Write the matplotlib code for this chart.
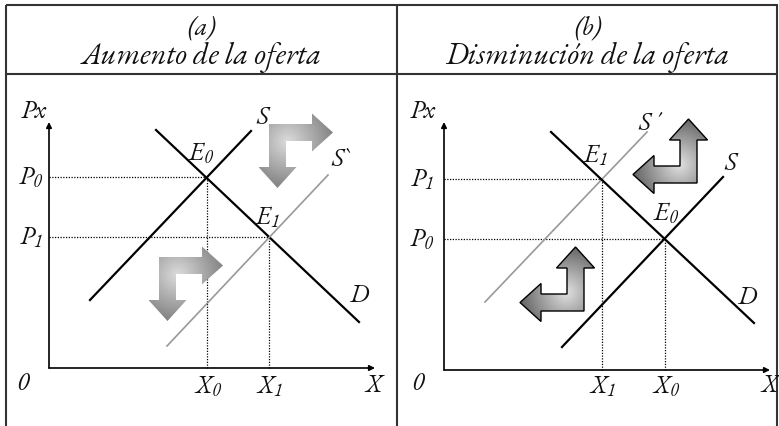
import numpy as np
import matplotlib
matplotlib.use("Agg")
import matplotlib.pyplot as plt
from matplotlib.patches import Polygon
from matplotlib import font_manager as fm

# pick an italic serif close to Garamond
FAM = 'Liberation Serif'
for cand in ['EB Garamond', 'Cormorant Garamond', 'Liberation Serif']:
    try:
        p = fm.findfont(fm.FontProperties(family=cand, style='italic'), fallback_to_default=False)
        if 'talic' in p:
            FAM = cand
            break
    except Exception:
        pass

plt.rcParams['font.family'] = [FAM, 'DejaVu Serif']
plt.rcParams['mathtext.fontset'] = 'custom'
plt.rcParams['mathtext.it'] = FAM + ':italic'
plt.rcParams['mathtext.rm'] = FAM + ':italic'

# ---------------- data ----------------
titles_letter = ["(a)", "(b)"]
titles_text = ["Aumento de la oferta", "Disminución de la oferta"]

# Panel (a): supply increase
a_S_x = [41, 202];   a_S_y = [68, 237]
a_D_x = [107, 310];  a_D_y = [238, 46]
a_S2_x = [118, 279]; a_S2_y = [22, 193]
a_eq_x = [158, 220]; a_eq_y = [191, 131]          # E0, E1
a_eq_names = ["$E_0$", "$E_1$"]
a_price_names = ["$P_0$", "$P_1$"]
a_qty_names = ["$X_0$", "$X_1$"]

# Panel (b): supply decrease
b_S2_x = [41, 203];  b_S2_y = [68, 238]
b_D_x = [107, 310];  b_D_y = [238, 47]
b_S_x = [118, 279];  b_S_y = [23, 193]
b_eq_x = [221, 158]; b_eq_y = [131, 191]          # E0, E1
b_eq_names = ["$E_0$", "$E_1$"]
b_price_names = ["$P_0$", "$P_1$"]
b_qty_names = ["$X_0$", "$X_1$"]

axis_top = [246, 248]
axis_right = [326, 326]

# ---------------- figure ----------------
W, H = 779, 426
fig = plt.figure(figsize=(W / 100, H / 100), dpi=100)
bg = fig.add_axes([0, 0, 1, 1])
bg.set_xlim(0, W); bg.set_ylim(H, 0); bg.axis('off')

bc = '#333333'
blw = 1.5
for (x0, x1, y0, y1) in [(6, 778, 4.5, 4.5), (6, 778, 74, 74),
                         (6, 6, 4.5, 426), (397, 397, 4.5, 426),
                         (777.5, 777.5, 4.5, 426)]:
    bg.plot([x0, x1], [y0, y1], color=bc, lw=blw, solid_capstyle='butt')

TW = 'medium'
# title font size chosen so that panel (a) title is ~240 px wide
renderer = fig.canvas.get_renderer()
probe = bg.text(0, 0, titles_text[0], fontsize=20, style='italic', weight=TW)
wpx = probe.get_window_extent(renderer).width
probe.remove()
title_fs = 20 * 240.0 / wpx

for cx, lt, tt in [(201.5, titles_letter[0], titles_text[0]),
                   (587.5, titles_letter[1], titles_text[1])]:
    bg.text(cx, 35, lt, ha='center', va='baseline', fontsize=title_fs * 0.85,
            style='italic', weight=TW, color='#111')
    bg.text(cx, 64, tt, ha='center', va='baseline', fontsize=title_fs,
            style='italic', weight=TW, color='#111')


def make_panel(px0, px1, ox, oy):
    top, bot = 75, 426
    ax = fig.add_axes([px0 / W, 0, (px1 - px0) / W, (bot - top) / H])
    ax.set_xlim(px0 - ox, px1 - ox)
    ax.set_ylim(oy - bot, oy - top)
    ax.axis('off')
    return ax


def bent_arrow(ax, cx, cy, sx, sy, dark, light, outline):
    L, t, hw, hl = 64, 17, 38, 21
    e = (hw - t) / 2
    loc = [(0, 0), (L - hl, 0), (L - hl, -e), (L, t / 2), (L - hl, t + e),
           (L - hl, t), (t, t), (t, L - hl), (t + e, L - hl), (t / 2, L),
           (-e, L - hl), (0, L - hl)]
    pts = [(cx + sx * a, cy + sy * b) for a, b in loc]
    poly = Polygon(pts, closed=True, facecolor='none',
                   edgecolor='black' if outline else 'none', lw=1.0, zorder=4)
    ax.add_patch(poly)
    xs = [p[0] for p in pts]; ys = [p[1] for p in pts]
    x0, x1, y0, y1 = min(xs), max(xs), min(ys), max(ys)
    gx, gy = np.meshgrid(np.linspace(x0, x1, 120), np.linspace(y0, y1, 120))
    ccx, ccy = cx + sx * 0.28 * L, cy + sy * 0.28 * L
    r = np.hypot(gx - ccx, gy - ccy) / (0.75 * L)
    val = light + (dark - light) * np.clip(r, 0, 1)
    im = ax.imshow(val, extent=(x0, x1, y0, y1), origin='lower', cmap='gray',
                   vmin=0, vmax=1, zorder=3, interpolation='bilinear', aspect='auto')
    im.set_clip_path(poly)
    ax.set_xlim(ax.get_xlim()); ax.set_ylim(ax.get_ylim())


fs = 18.5
tk = dict(fontsize=fs, style='italic', weight=TW, color='#111', ha='center', va='center')
tk_m = dict(fontsize=fs, color='#111', ha='center', va='center')


def axes_lines(ax, top, right):
    ax.annotate('', xy=(0, top), xytext=(0, 0),
                arrowprops=dict(arrowstyle='-|>', lw=1.2, color='black',
                                mutation_scale=8, shrinkA=0, shrinkB=0))
    ax.annotate('', xy=(right, 0), xytext=(0, 0),
                arrowprops=dict(arrowstyle='-|>', lw=1.2, color='black',
                                mutation_scale=8, shrinkA=0, shrinkB=0))


def dotted(ax, x, y):
    ax.plot([0, x], [y, y], color='black', lw=0.9, ls=(0, (1, 1.2)))
    ax.plot([x, x], [0, y], color='black', lw=0.9, ls=(0, (1, 1.2)))


# ---- panel (a) ----
axA = make_panel(6, 397, 49, 368)
axes_lines(axA, axis_top[0], axis_right[0])
for x, y in zip(a_eq_x, a_eq_y):
    dotted(axA, x, y)
axA.plot(a_S_x, a_S_y, color='black', lw=1.6)
axA.plot(a_D_x, a_D_y, color='black', lw=1.6)
axA.plot(a_S2_x, a_S2_y, color='#999999', lw=1.2)
bent_arrow(axA, 220, 244, 1, -1, 0.50, 0.86, False)
bent_arrow(axA, 110, 111, 1, -1, 0.50, 0.86, False)
axA.text(-15, 255, "Px", **tk)
axA.text(213, 250, "S", **tk)
axA.text(291, 208, "S`", **tk)
axA.text(310, 71, "D", **tk)
axA.text(-27, -17, "0", **tk)
axA.text(325, -18, "X", **tk)
axA.text(152, 213, a_eq_names[0], **tk_m)
axA.text(219, 149, a_eq_names[1], **tk_m)
axA.text(-18, a_eq_y[0] - 2, a_price_names[0], **tk_m)
axA.text(-18, a_eq_y[1] - 2, a_price_names[1], **tk_m)
axA.text(a_eq_x[0] + 1, -20, a_qty_names[0], **tk_m)
axA.text(a_eq_x[1] + 1, -20, a_qty_names[1], **tk_m)

# ---- panel (b) ----
axB = make_panel(397, 778, 444, 370)
axes_lines(axB, axis_top[1], axis_right[1])
for x, y in zip(b_eq_x, b_eq_y):
    dotted(axB, x, y)
axB.plot(b_S2_x, b_S2_y, color='#999999', lw=1.2)
axB.plot(b_D_x, b_D_y, color='black', lw=1.6)
axB.plot(b_S_x, b_S_y, color='black', lw=1.6)
bent_arrow(axB, 253, 187, -1, 1, 0.38, 0.88, True)
bent_arrow(axB, 140, 59, -1, 1, 0.38, 0.88, True)
axB.text(-21, 257, "Px", **tk)
axB.text(205, 245, "S ´", **tk)
axB.text(286, 205, "S", **tk)
axB.text(303, 72, "D", **tk)
axB.text(-27, -15, "0", **tk)
axB.text(326, -16, "X", **tk)
axB.text(222, 155, b_eq_names[0], **tk_m)
axB.text(152, 213, b_eq_names[1], **tk_m)
axB.text(-22, b_eq_y[0] - 2, b_price_names[0], **tk_m)
axB.text(-22, b_eq_y[1] - 2, b_price_names[1], **tk_m)
axB.text(b_eq_x[0] + 1, -18, b_qty_names[0], **tk_m)
axB.text(b_eq_x[1] + 1, -18, b_qty_names[1], **tk_m)

fig.savefig("out.png", dpi=100)
